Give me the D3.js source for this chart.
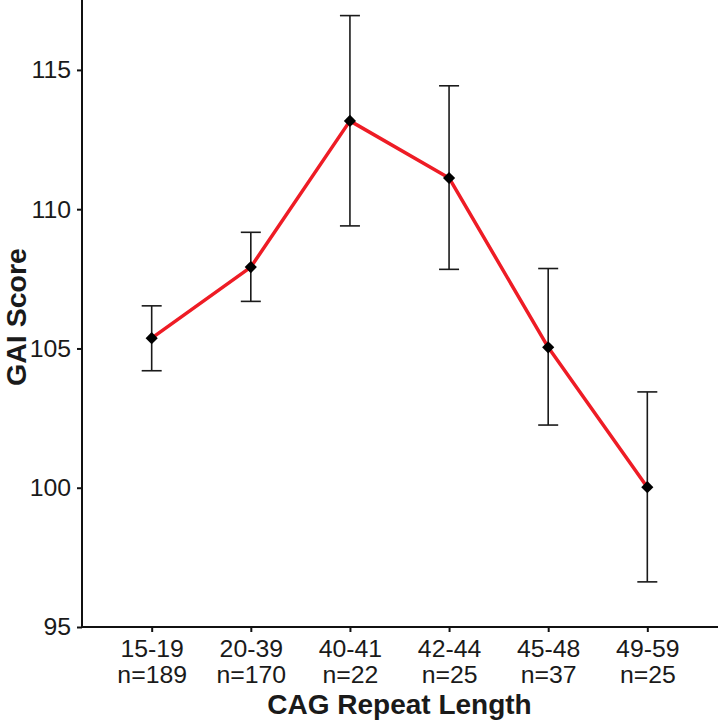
<!DOCTYPE html>
<html>
<head>
<meta charset="utf-8">
<script src="https://cdn.jsdelivr.net/npm/d3@7"></script>
<style>
  html, body { margin: 0; padding: 0; background: #fff; }
  svg { display: block; }
</style>
</head>
<body>
<svg id="chart" width="718" height="721"></svg>
<script>
const categories = ["15-19", "20-39", "40-41", "42-44", "45-48", "49-59"];
const sampleSizes = ["n=189", "n=170", "n=22", "n=25", "n=37", "n=25"];
const means = [105.37, 107.92, 113.17, 111.12, 105.04, 100.02];
const upper = [106.53, 109.17, 116.95, 114.43, 107.87, 103.44];
const lower = [104.20, 106.69, 109.40, 107.84, 102.25, 96.62];
const yTicks = [95, 100, 105, 110, 115];

(function () {
const svg = d3.select("#chart");
const pLeft = 82, pRight = 717, pTop = 0, pBottom = 627;

const x = d3.scalePoint().domain(categories).range([pLeft, pRight]).padding(0.703);
const y = d3.scaleLinear().domain([95, 117.51]).range([pBottom, pTop]);

const data = categories.map((c, i) => ({ c, n: sampleSizes[i], m: means[i], lo: lower[i], hi: upper[i] }));

const font = "'Liberation Sans', Arial, Helvetica, sans-serif";
const txt = "#1a1a1a";

// Y axis
const yAxis = svg.append("g").attr("transform", `translate(${pLeft},0)`)
  .call(d3.axisLeft(y).tickValues(yTicks).tickSize(5).tickPadding(6).tickFormat(d3.format("d")));
yAxis.select(".domain").remove();
yAxis.selectAll(".tick line").attr("stroke", "#111").attr("stroke-width", 2);
yAxis.selectAll(".tick text").attr("font-family", font).attr("font-size", 24.8).attr("fill", txt);
svg.append("line").attr("x1", pLeft).attr("x2", pLeft).attr("y1", pTop).attr("y2", pBottom + 1)
  .attr("stroke", "#111").attr("stroke-width", 2);

// X axis
const xAxis = svg.append("g").attr("transform", `translate(0,${pBottom})`)
  .call(d3.axisBottom(x).tickSize(5).tickFormat(""));
xAxis.select(".domain").remove();
xAxis.selectAll(".tick line").attr("stroke", "#111").attr("stroke-width", 2);
xAxis.selectAll(".tick").each(function(d, i) {
  const t = d3.select(this).append("text")
    .attr("font-family", font).attr("font-size", 24.8).attr("fill", txt)
    .attr("text-anchor", "middle");
  t.append("tspan").attr("x", 0).attr("y", 29.7).text(categories[i]);
  t.append("tspan").attr("x", 0).attr("y", 55.7).text(sampleSizes[i]);
});
svg.append("line").attr("x1", pLeft - 1).attr("x2", 718).attr("y1", pBottom).attr("y2", pBottom)
  .attr("stroke", "#111").attr("stroke-width", 2);

// Axis titles
svg.append("text").attr("x", (pLeft + pRight) / 2).attr("y", 714)
  .attr("text-anchor", "middle").attr("font-family", font).attr("font-weight", "bold")
  .attr("font-size", 28).attr("fill", txt).text("CAG Repeat Length");
svg.append("text").attr("transform", `translate(25.5,${(pTop + pBottom) / 2 + 3.5}) rotate(-90)`)
  .attr("text-anchor", "middle").attr("font-family", font).attr("font-weight", "bold")
  .attr("font-size", 28.5).attr("fill", txt).text("GAI Score");

// Error bars
const eb = svg.append("g").attr("stroke", "#1a1a1a").attr("stroke-width", 1.6);
data.forEach(d => {
  const cx = x(d.c);
  eb.append("line").attr("x1", cx).attr("x2", cx).attr("y1", y(d.lo)).attr("y2", y(d.hi));
  eb.append("line").attr("x1", cx - 10).attr("x2", cx + 10).attr("y1", y(d.lo)).attr("y2", y(d.lo));
  eb.append("line").attr("x1", cx - 10).attr("x2", cx + 10).attr("y1", y(d.hi)).attr("y2", y(d.hi));
});

// Line
svg.append("path").datum(data)
  .attr("d", d3.line().x(d => x(d.c)).y(d => y(d.m)))
  .attr("fill", "none").attr("stroke", "#ee1c25").attr("stroke-width", 3.5)
  .attr("stroke-linejoin", "round");

// Points (diamonds)
svg.append("g").selectAll("path").data(data).join("path")
  .attr("d", d3.symbol().type(d3.symbolSquare).size(74))
  .attr("transform", d => `translate(${x(d.c)},${y(d.m)}) rotate(45)`)
  .attr("fill", "#000");
})();
</script>
</body>
</html>
